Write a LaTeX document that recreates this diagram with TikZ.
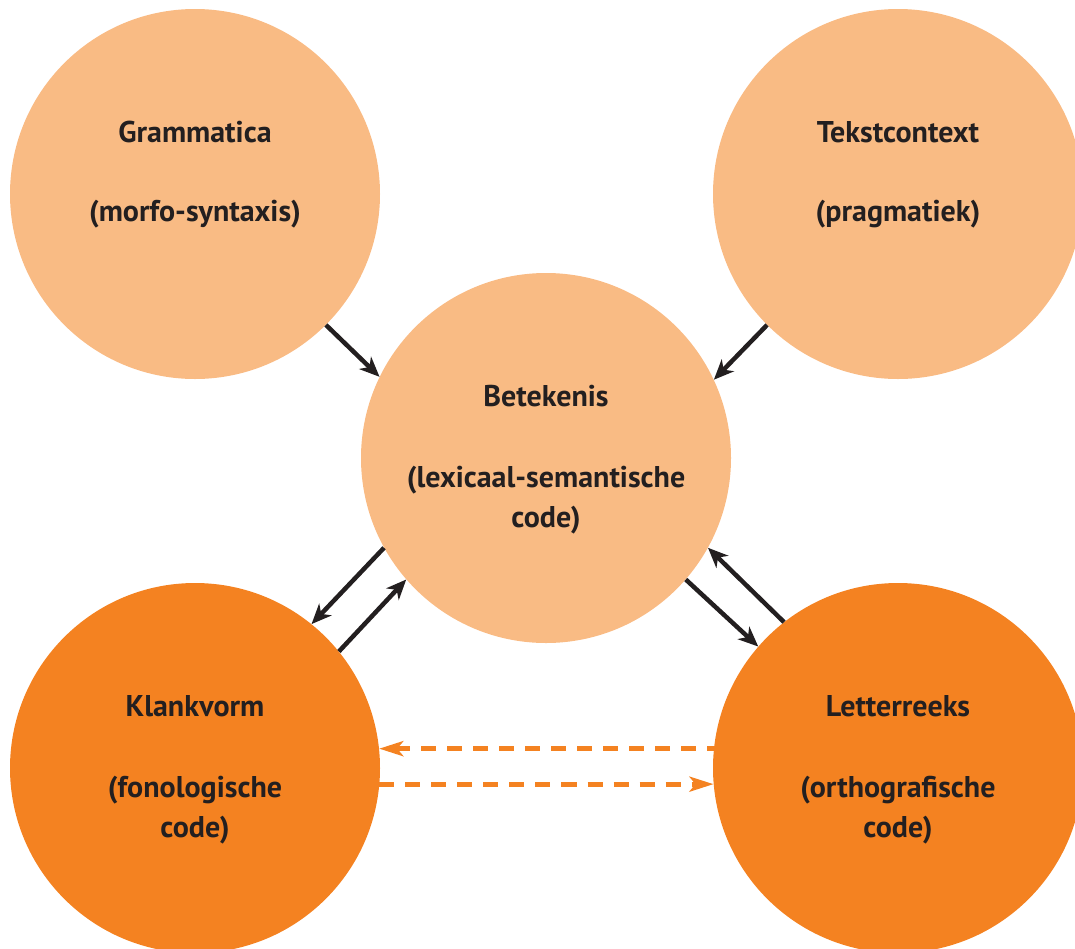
\documentclass[tikz,border=0pt]{standalone}
\usepackage{fontspec}
\setmainfont{PT Sans}
\usetikzlibrary{arrows.meta}
\definecolor{light}{HTML}{F9BB84}
\definecolor{dark}{HTML}{F48221}
\definecolor{ink}{HTML}{231F20}
\tikzset{
  disc/.style={circle, minimum size=370pt, inner sep=0pt, draw=none},
  lbl/.style={anchor=base, font=\fontsize{30}{34}\selectfont\bfseries, text=ink, inner sep=0pt},
  blackarrow/.style={draw=ink, line width=4.5pt, -{Stealth[length=20pt,width=17pt,inset=6pt]}},
  orangearrow/.style={draw=dark, line width=5pt, dash pattern=on 15pt off 11pt, -{Stealth[length=24pt,width=15pt,inset=6pt]}}
}
\begin{document}
\begin{tikzpicture}[x=1pt,y=-1pt]
\useasboundingbox (0,0) rectangle (1075,948);
\clip (0,0) rectangle (1075,948);
\node[disc, fill=light] (g) at (195,194) {};
\node[disc, fill=light] (t) at (898,194) {};
\node[disc, fill=light] (b) at (546,458) {};
\node[disc, fill=dark] (k) at (195,768) {};
\node[disc, fill=dark] (l) at (898,768) {};
% labels
\node[lbl] (g1) at (195,142) {Grammatica};
\node[lbl] (g2) at (195,221) {(morfo-syntaxis)};
\node[lbl] (t1) at (898,142) {Tekstcontext};
\node[lbl] (t2) at (898,221) {(pragmatiek)};
\node[lbl] (b1) at (546,406) {Betekenis};
\node[lbl] (b2) at (546,487) {(lexicaal-semantische};
\node[lbl] (b3) at (546,527) {code)};
\node[lbl] (k1) at (195,716) {Klankvorm};
\node[lbl] (k2) at (195,797) {(fonologische};
\node[lbl] (k3) at (195,837) {code)};
\node[lbl] (l1) at (898,716) {Letterreeks};
\node[lbl] (l2) at (898,797) {(orthografische};
\node[lbl] (l3) at (898,837) {code)};
% arrows
\draw[blackarrow] (g.-45) -- (b.154);
\draw[blackarrow] (t.-135) -- (b.25.6);
\draw[blackarrow] (b.209.6) -- (k.51);
\draw[blackarrow] (k.39.5) -- (b.221.3);
\draw[blackarrow] (b.-41) -- (l.139.4);
\draw[blackarrow] (l.128.5) -- (b.-29.3);
\draw[orangearrow, shorten <=-8pt] (l.174) -- (k.6);
\draw[orangearrow] (k.-5.6) -- (l.185.6);
\end{tikzpicture}
\end{document}
